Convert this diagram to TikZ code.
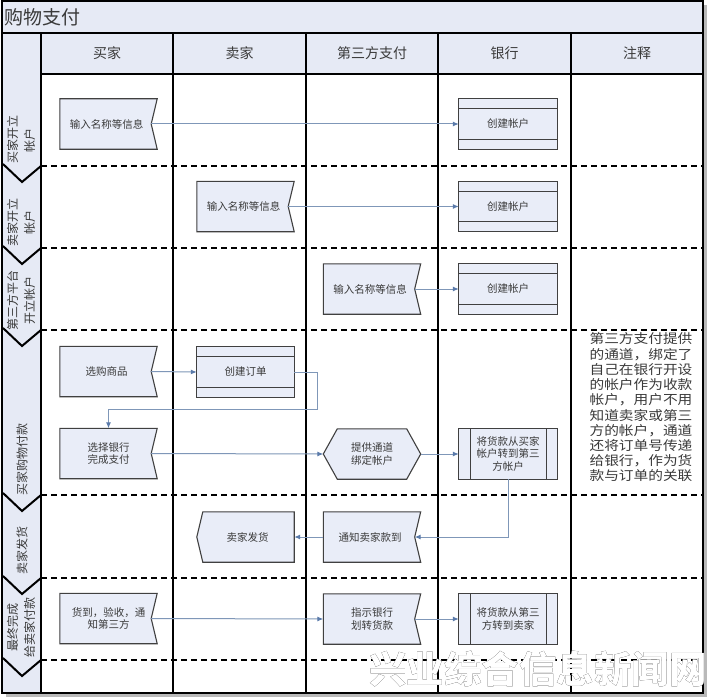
\documentclass[tikz,border=0pt]{standalone}
\usepackage{fontspec}
\setmainfont{Noto Sans CJK SC}
\usepackage{graphicx}
\usepackage{pdfrender}
\usetikzlibrary{arrows.meta,calc}
\pgfdeclarelayer{back}
\pgfdeclarelayer{bg}
\pgfsetlayers{back,bg,main}
\definecolor{lav}{HTML}{E6EAF5}
\definecolor{shpfill}{HTML}{E9EDF8}
\definecolor{shpline}{HTML}{404040}
\definecolor{conncol}{HTML}{7F97B8}
\definecolor{tipcol}{HTML}{5A7AAA}
\definecolor{txt}{HTML}{3A3A3A}
\newcommand\ShpNotch[1]{\path[shp] (#1.north west) -- (#1.north east) -- ([xshift=-6pt]#1.east) -- (#1.south east) -- (#1.south west) -- cycle;}
\newcommand\ShpProc[1]{\path[shp] (#1.north west) rectangle (#1.south east);
  \draw[shpl] ([yshift=-10pt]#1.north west) -- ([yshift=-10pt]#1.north east)
              ([yshift=10pt]#1.south west) -- ([yshift=10pt]#1.south east);}
\newcommand\ShpPre[1]{\path[shp] (#1.north west) rectangle (#1.south east);
  \draw[shpl] ([xshift=12pt]#1.north west) -- ([xshift=12pt]#1.south west)
              ([xshift=-11pt]#1.north east) -- ([xshift=-11pt]#1.south east);}
\newcommand\ShpHex[1]{\path[shp] (#1.west) -- ([xshift=14pt]#1.north west) -- ([xshift=-14pt]#1.north east) -- (#1.east) -- ([xshift=-14pt]#1.south east) -- ([xshift=14pt]#1.south west) -- cycle;}
\newcommand\ShpPtL[1]{\path[shp] (#1.west) -- ([xshift=6pt]#1.north west) -- (#1.north east) -- (#1.south east) -- ([xshift=6pt]#1.south west) -- cycle;}
\newcommand\WmText{兴业综合信息新闻网}
\begin{document}
\begin{tikzpicture}[x=1pt,y=-1pt,
  lbl/.style={font=\fontsize{10.5}{12.8}\selectfont, text=txt, align=center, inner sep=0pt},
  box/.style={lbl, minimum width=97pt, minimum height=50pt},
  bbox/.style={lbl, minimum width=98pt, minimum height=50pt},
  hdr/.style={font=\fontsize{14}{16}\selectfont, text=txt, inner sep=0pt},
  lane/.style={font=\fontsize{12}{17}\selectfont, text=txt, align=center, rotate=90, inner sep=0pt},
  shp/.style={fill=shpfill, draw=shpline, line width=1.1pt, line join=miter},
  shpl/.style={draw=shpline, line width=1.1pt},
  conn/.style={draw=conncol, line width=1pt, -{Latex[length=6pt,width=5pt,fill=tipcol,color=tipcol]}},
  divider/.style={line width=2pt, dash pattern=on 6pt off 4pt},
  colline/.style={line width=1.3pt},
  chev/.style={line width=2pt, line join=miter},
  wm/.style={font=\fontsize{37.5}{40}\selectfont\bfseries, inner sep=0pt}]
\useasboundingbox (0,0) rectangle (709,698);

\begin{pgfonlayer}{back}
  % shadow and frame
  \fill[gray!55] (6,5) rectangle (707,697);
  \fill[white] (2,1) rectangle (703,693);
  \fill[lav] (2,1) rectangle (703,33);
  \fill[lav] (41,33) rectangle (703,74);
  \fill[lav] (2,33) rectangle (41,693);
  % dividers
  \foreach \yy in {166,248,330,495,578,660}
    \draw[divider] (41,\yy) -- (703,\yy);
  % chevrons
  \foreach \yy in {166,248,330,495,578,660}
    \draw[chev] (3,\yy-2) -- (22,\yy+16) -- (41,\yy);
  % columns
  \foreach \xx in {41,173,306,438,571}
    \draw[colline] (\xx,33) -- (\xx,693);
  \draw[colline] (2,33) -- (703,33);
  \draw[colline] (41,74) -- (703,74);
  \draw[line width=1.5pt] (2,1) rectangle (703,693);
\end{pgfonlayer}

% title and headers
\node[font=\fontsize{19}{21}\selectfont, text=txt, anchor=west, inner sep=0pt] (title) at (4,17) {购物支付};
\node[hdr] (h1) at (107,53.5) {买家};
\node[hdr] (h2) at (239.5,53.5) {卖家};
\node[hdr] (h3) at (372,53.5) {第三方支付};
\node[hdr] (h4) at (504.5,53.5) {银行};
\node[hdr] (h5) at (637,53.5) {注释};

% lane labels
\node[lane] (l1) at (21,140) {买家开立\\帐户};
\node[lane] (l2) at (21,222) {卖家开立\\帐户};
\node[lane] (l3) at (21,300) {第三方平台\\开立帐户};
\node[lane] (l4) at (22,459) {买家购物付款};
\node[lane] (l5) at (22,550) {卖家发货};
\node[lane] (l6) at (21,627) {最终完成\\给卖家付款};

% nodes
\node[box] (b1) at (108.5,124) {输入名称等信息\hspace*{4pt}};
\node[bbox] (k1) at (508,124) {创建帐户};
\node[box] (s2) at (245.5,206.5) {输入名称等信息\hspace*{4pt}};
\node[bbox] (k2) at (508,206.5) {创建帐户};
\node[box] (t3) at (372,289) {输入名称等信息\hspace*{4pt}};
\node[bbox] (k3) at (508,289) {创建帐户};
\node[box] (b4) at (108.5,371.5) {选购商品\hspace*{4pt}};
\node[box] (s4) at (245.5,372) {创建订单};
\node[box] (b4b) at (108.5,453.5) {选择银行\\完成支付};
\node[box] (t4) at (372,454) {提供通道\\绑定帐户};
\node[bbox] (k4) at (508,454) {将货款从买家\\帐户转到第三\\方帐户};
\node[box] (t5) at (372,537) {通知卖家款到\hspace*{4pt}};
\node[box] (s5) at (245.5,537) {\hspace*{4pt}卖家发货};
\node[box] (b6) at (108.5,618.5) {货到，验收，通\\知第三方};
\node[box] (t6) at (372,619) {指示银行\\划转货款};
\node[bbox] (k6) at (508,619) {将货款从第三\\方转到卖家};

\node[text=txt, inner sep=0pt] (note) at (641,409) {\scalebox{1.13}[1]{\fontsize{13}{14.2}\selectfont
  \begin{tabular}{@{}c@{}}
  第三方支付提供\\的通道，绑定了\\自己在银行开设\\的帐户作为收款\\帐户，用户不用\\
  知道卖家或第三\\方的帐户，通道\\还将订单号传递\\给银行，作为货\\款与订单的关联
  \end{tabular}}};

\begin{pgfonlayer}{bg}
  \ShpNotch{b1} \ShpProc{k1}
  \ShpNotch{s2} \ShpProc{k2}
  \ShpNotch{t3} \ShpProc{k3}
  \ShpNotch{b4} \ShpProc{s4}
  \ShpNotch{b4b} \ShpHex{t4} \ShpPre{k4}
  \ShpNotch{t5} \ShpPtL{s5}
  \ShpNotch{b6} \ShpNotch{t6} \ShpPre{k6}
\end{pgfonlayer}

% connectors
\coordinate (c1) at (317,409);
\draw[conn] ([xshift=-6pt]b1.east) -- (k1.west);
\draw[conn] ([xshift=-6pt]s2.east) -- (k2.west);
\draw[conn] ([xshift=-6pt]t3.east) -- (k3.west);
\draw[conn] ([xshift=-6pt]b4.east) -- (s4.west);
\draw[conn] (s4.east) -| (c1) -| (b4b.north);
\draw[conn] ([xshift=-6pt]b6.east) -- (t6.west);
\draw[conn] ([xshift=-6pt]b4b.east) -- (t4.west);
\draw[conn] (t4.east) -- (k4.west);
\draw[conn] (k4.south) |- ([xshift=-6pt]t5.east);
\draw[conn] (t5.west) -- (s5.east);
\draw[conn] ([xshift=-6pt]t6.east) -- (k6.west);

% watermark (white letters with black outline)
\node[wm, text=black] (wm) at (538,669) {\pgfsetlinewidth{4.4pt}\pgfsetroundjoin\rlap{\textpdfrender{TextRenderingMode=FillStroke}{\WmText}}{\color{white}\WmText}};
\end{tikzpicture}
\end{document}
